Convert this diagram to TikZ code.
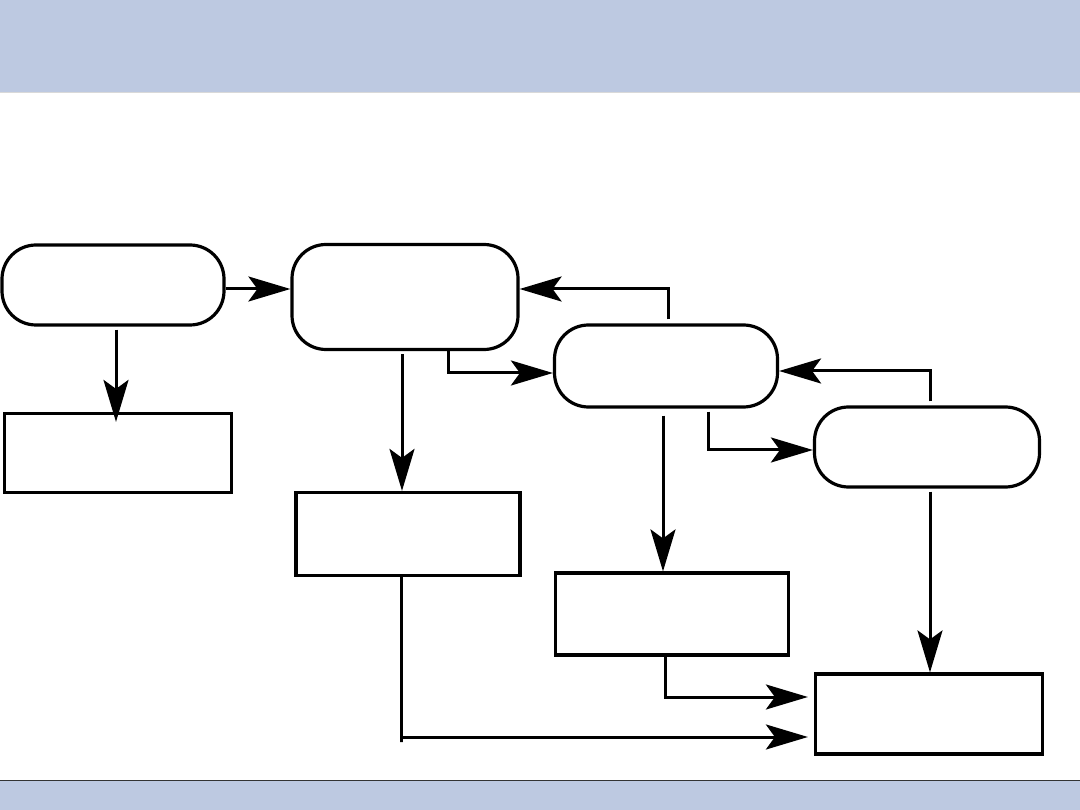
\documentclass[tikz,border=0pt]{standalone}
\usepackage{tikz}
\usetikzlibrary{arrows.meta,positioning,calc}
\definecolor{band}{HTML}{BDC9E1}

\begin{document}
\begin{tikzpicture}[x=1pt,y=-1pt,
  rbox/.style={draw,line width=3.2pt,rounded corners=34pt,fill=white,inner sep=0pt},
  box/.style={draw,line width=3.2pt,fill=white,inner sep=0pt},
  arr/.style={-{Stealth[length=42pt,width=25pt,inset=9pt]},line width=3pt}]
\useasboundingbox (0,0) rectangle (1080,810);
% bands
\fill[band] (0,0) rectangle (1080,92);
\draw[black!15,line width=0.8pt] (0,92) -- (1080,92);
\fill[band] (0,780) rectangle (1080,810);
\draw[black!80,line width=1pt] (0,780) -- (1080,780);
% rounded steps
\node[rbox,minimum width=222pt,minimum height=80pt] (r1) at (113,285) {};
\node[rbox,minimum width=226pt,minimum height=105pt] (r2) at (405,297) {};
\node[rbox,minimum width=223pt,minimum height=82pt] (r3) at (666,366) {};
\node[rbox,minimum width=225pt,minimum height=80pt] (r4) at (927,447) {};
% boxes
\node[box,minimum width=227pt,minimum height=79pt] (b1) at (118,453) {};
\node[box,minimum width=224pt,minimum height=83pt] (b2) at (408,534) {};
\node[box,minimum width=233pt,minimum height=82pt] (b3) at (672,614) {};
\node[box,minimum width=227pt,minimum height=80pt] (b4) at (929,714) {};
% connectors
\draw[arr] ([yshift=-4pt]r1.east) -- ([yshift=-4pt]r1.east -| r2.west);
\draw[arr,shorten <=3pt] ([xshift=3pt]r1.south) -- ([xshift=3pt,yshift=-10pt]r1.south |- b1.north);
\draw[arr,shorten <=3pt] ([xshift=-3pt]r2.south) -- ([xshift=-3pt]r2.south |- b2.north);
\draw[arr] ([xshift=43pt]r2.south) |- ([yshift=-7pt]r3.west);
\draw[arr,shorten <=4pt] ([xshift=2pt]r3.north) |- ([yshift=8pt]r2.east);
\draw[arr,shorten <=7pt] ([xshift=-3pt]r3.south) -- ([xshift=-3pt]r3.south |- b3.north);
\draw[arr,shorten <=3pt] ([xshift=42pt]r3.south) |- ([yshift=-3pt]r4.west);
\draw[arr,shorten <=4pt] ([xshift=3pt]r4.north) |- ([yshift=-5pt]r3.east);
\draw[arr,shorten <=3pt] ([xshift=3pt]r4.south) -- ([xshift=3pt]r4.south |- b4.north);
\draw[arr] ([xshift=-7pt]b3.south) |- ([xshift=-6pt,yshift=17pt]b4.west);
\draw[arr] ([xshift=-7pt]b2.south) -- ++(0,165) |- ([xshift=-6pt,yshift=-23pt]b4.west);
\end{tikzpicture}
\end{document}
